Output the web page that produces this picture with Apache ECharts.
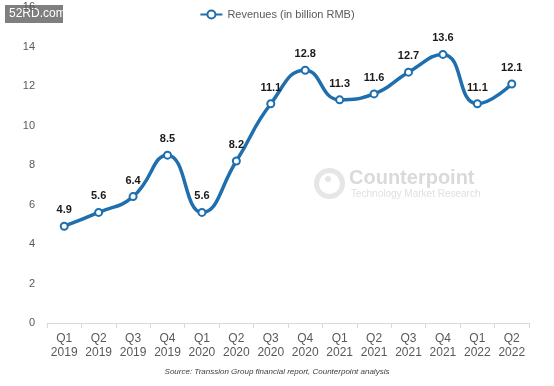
<!DOCTYPE html>
<html><head><meta charset="utf-8">
<script src="https://cdn.jsdelivr.net/npm/echarts@6/dist/echarts.min.js"></script>
<style>html,body{margin:0;padding:0;background:#fff}#c{width:554px;height:386px}</style>
</head><body><div id="c"></div>
<script>
const categories = ['Q1\n2019','Q2\n2019','Q3\n2019','Q4\n2019','Q1\n2020','Q2\n2020','Q3\n2020','Q4\n2020','Q1\n2021','Q2\n2021','Q3\n2021','Q4\n2021','Q1\n2022','Q2\n2022'];
const revenues = [4.9,5.6,6.4,8.5,5.6,8.2,11.1,12.8,11.3,11.6,12.7,13.6,11.1,12.1];
const seriesName = 'Revenues (in billion RMB)';
const sourceText = 'Source: Transsion Group financial report, Counterpoint analysis';

const chart = echarts.init(document.getElementById('c'));
chart.setOption({
  animation:false,
  textStyle:{fontFamily:'Liberation Sans, Arial, sans-serif'},
  legend:{top:4,left:'center',itemWidth:22,itemHeight:10,
    textStyle:{fontSize:11,color:'#595959',fontFamily:'Liberation Sans'},
    data:[seriesName]},
  grid:{left:47,right:25,top:7,bottom:63,containLabel:false},
  xAxis:{type:'category',data:categories,boundaryGap:true,
    axisLine:{lineStyle:{color:'#d9d9d9'}},
    axisTick:{show:true,lineStyle:{color:'#d9d9d9'}},
    axisLabel:{color:'#595959',fontSize:12,lineHeight:14,margin:9,interval:0}},
  yAxis:{type:'value',min:0,max:16,interval:2,
    axisLine:{show:false},axisTick:{show:false},splitLine:{show:false},
    axisLabel:{color:'#595959',fontSize:11,margin:12}},
  graphic:[
    {type:'rect',left:5,top:5,shape:{width:58,height:18},style:{fill:'#7f7f7f'}},
    {type:'text',left:9,top:8,style:{text:'52RD.com',fill:'#fff',font:'12px Liberation Sans'}},
    {type:'circle',left:314,top:168,shape:{r:13},style:{fill:'none',stroke:'#e6e6e6',lineWidth:5}},
    {type:'circle',left:325,top:176,shape:{r:3},style:{fill:'#e6e6e6'}},
    {type:'text',left:349,top:168,style:{text:'Counterpoint',fill:'#dadada',font:'bold 20px Liberation Sans'}},
    {type:'text',left:351,top:189,style:{text:'Technology Market Research',fill:'#e0e0e0',font:'10px Liberation Sans'}},
    {type:'text',left:'center',top:368,style:{text:sourceText,fill:'#404040',font:'italic 8px Liberation Sans'}}
  ],
  series:[{name:seriesName,type:'line',data:revenues,smooth:0.5,
    symbol:'circle',symbolSize:7,
    lineStyle:{color:'#1f6fae',width:3.5},
    itemStyle:{color:'#fff',borderColor:'#1f6fae',borderWidth:2},
    label:{show:true,position:'top',distance:6,color:'#1a1a1a',fontWeight:'bold',fontSize:11,
      formatter:p=>p.value.toFixed(1)}}]
});
</script></body></html>
